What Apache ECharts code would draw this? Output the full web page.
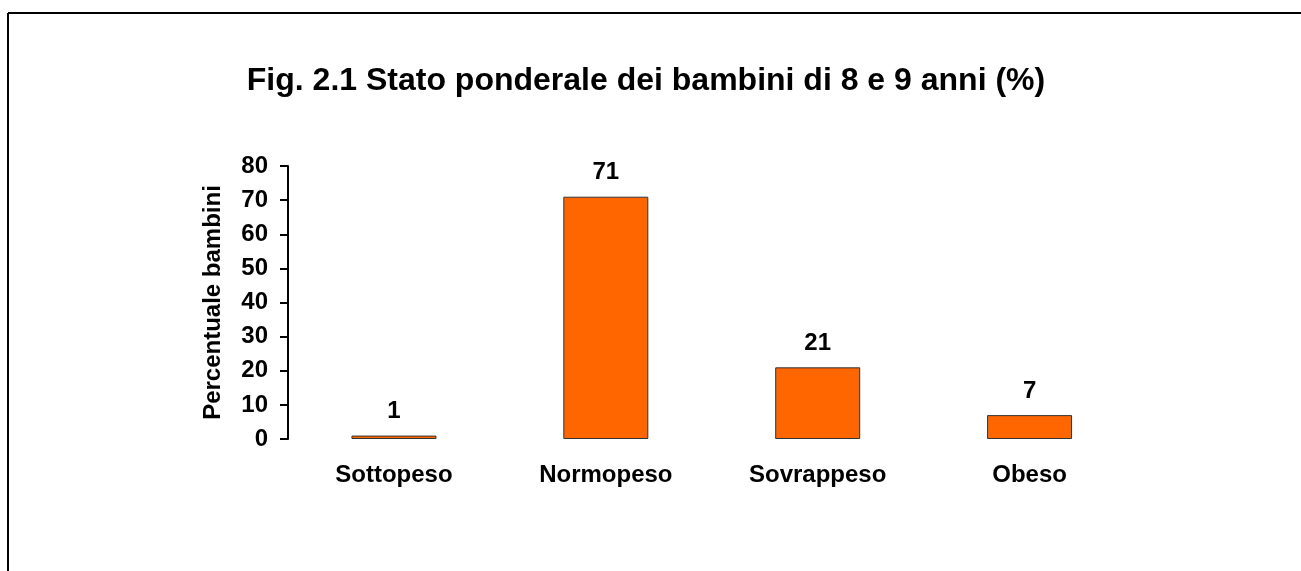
<!DOCTYPE html>
<html>
<head>
<meta charset="utf-8">
<script src="https://cdn.jsdelivr.net/npm/echarts@6/dist/echarts.min.js"></script>
<style>
html,body{margin:0;padding:0;background:#fff;}
#c{width:1301px;height:571px;}
</style>
</head>
<body>
<div id="c"></div>
<script>
const titleText = 'Fig. 2.1 Stato ponderale dei bambini di 8 e 9 anni (%)';
const yAxisName = 'Percentuale bambini';
const categories = ['Sottopeso', 'Normopeso', 'Sovrappeso', 'Obeso'];
const values = [1, 71, 21, 7];
const yMin = 0, yMax = 80, yInterval = 10;

const font = '"Liberation Sans", Arial, sans-serif';
const chart = echarts.init(document.getElementById('c'), null, {renderer: 'canvas'});
chart.setOption({
  animation: false,
  backgroundColor: '#ffffff',
  title: {
    text: titleText,
    left: 641,
    top: 60,
    textAlign: 'center',
    textStyle: {fontFamily: font, fontWeight: 'bold', fontSize: 32, color: '#000'}
  },
  graphic: [
    {type: 'line', shape: {x1: 8, y1: 13, x2: 1301, y2: 13}, style: {stroke: '#000', lineWidth: 2}},
    {type: 'line', shape: {x1: 8, y1: 13, x2: 8, y2: 571}, style: {stroke: '#000', lineWidth: 2}}
  ],
  grid: {left: 288, right: 165.5, top: 166, bottom: 132, containLabel: false},
  xAxis: {
    type: 'category',
    data: categories,
    axisLine: {show: false},
    axisTick: {show: false},
    axisLabel: {fontFamily: font, fontWeight: 'bold', fontSize: 24, color: '#000', margin: 24}
  },
  yAxis: {
    type: 'value',
    min: yMin, max: yMax, interval: yInterval,
    name: yAxisName,
    nameLocation: 'middle',
    nameRotate: 90,
    nameGap: 63,
    nameTextStyle: {fontFamily: font, fontWeight: 'bold', fontSize: 24, color: '#000'},
    axisLine: {show: true, lineStyle: {color: '#000', width: 2}},
    axisTick: {show: true, length: 8, lineStyle: {color: '#000', width: 2}},
    axisLabel: {fontFamily: font, fontWeight: 'bold', fontSize: 24, color: '#000', margin: 20},
    splitLine: {show: false}
  },
  series: [{
    type: 'bar',
    data: values,
    barWidth: 85,
    itemStyle: {color: '#FF6600', borderColor: '#333', borderWidth: 1},
    label: {show: true, position: 'top', distance: 12, fontFamily: font, fontWeight: 'bold', fontSize: 24, color: '#000'}
  }]
});
</script>
</body>
</html>
